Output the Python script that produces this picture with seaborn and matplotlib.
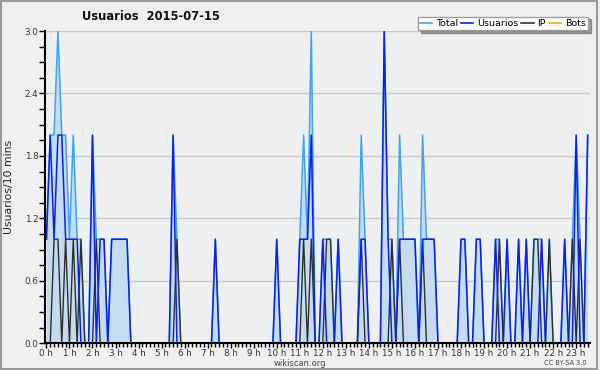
import matplotlib
matplotlib.use("Agg")
import matplotlib.pyplot as plt
import seaborn as sns
import pandas as pd
from matplotlib.lines import Line2D
from matplotlib.patches import Rectangle

# ---- data: one value per 10-minute slot (slot 0 = 00:00) ----
usuarios = [1, 2, 1, 2, 2, 1, 1, 1, 1, 0, 0, 0,
            2, 0, 1, 1, 0, 1, 1, 1, 1, 1, 0, 0,
            0, 0, 0, 0, 0, 0, 0, 0, 0, 2, 0, 0,
            0, 0, 0, 0, 0, 0, 0, 0, 1, 0, 0, 0,
            0, 0, 0, 0, 0, 0, 0, 0, 0, 0, 0, 0,
            1, 0, 0, 0, 0, 0, 1, 1, 1, 2, 0, 0,
            1, 0, 0, 0, 1, 0, 0, 0, 0, 0, 1, 1,
            0, 0, 0, 0, 3, 1, 0, 0, 1, 1, 1, 1,
            1, 0, 1, 1, 1, 1, 0, 0, 0, 0, 0, 0,
            1, 1, 0, 0, 1, 1, 0, 0, 0, 1, 0, 0,
            1, 0, 0, 1, 0, 1, 0, 0, 0, 1, 0, 0,
            0, 0, 0, 1, 0, 0, 2, 0, 0, 2]
ip = [0, 0, 1, 1, 0, 1, 0, 1, 0, 1, 0, 0,
      0, 1, 0, 0, 0, 0, 0, 0, 0, 0, 0, 0,
      0, 0, 0, 0, 0, 0, 0, 0, 0, 0, 1, 0,
      0, 0, 0, 0, 0, 0, 0, 0, 0, 0, 0, 0,
      0, 0, 0, 0, 0, 0, 0, 0, 0, 0, 0, 0,
      0, 0, 0, 0, 0, 0, 0, 1, 0, 1, 0, 0,
      0, 1, 1, 0, 0, 0, 0, 0, 0, 0, 1, 0,
      0, 0, 0, 0, 0, 0, 1, 0, 1, 0, 0, 0,
      0, 0, 1, 0, 0, 0, 0, 0, 0, 0, 0, 0,
      0, 0, 0, 0, 0, 0, 0, 0, 0, 0, 1, 0,
      0, 0, 0, 0, 0, 0, 0, 1, 1, 0, 0, 1,
      0, 0, 0, 0, 0, 1, 0, 1, 0, 0]
total = [1, 2, 2, 3, 2, 2, 1, 2, 1, 1, 0, 0,
         2, 1, 1, 1, 0, 1, 1, 1, 1, 1, 0, 0,
         0, 0, 0, 0, 0, 0, 0, 0, 0, 2, 1, 0,
         0, 0, 0, 0, 0, 0, 0, 0, 1, 0, 0, 0,
         0, 0, 0, 0, 0, 0, 0, 0, 0, 0, 0, 0,
         1, 0, 0, 0, 0, 0, 1, 2, 1, 3, 0, 0,
         1, 1, 1, 0, 1, 0, 0, 0, 0, 0, 2, 1,
         0, 0, 0, 0, 3, 1, 1, 0, 2, 1, 1, 1,
         1, 0, 2, 1, 1, 1, 0, 0, 0, 0, 0, 0,
         1, 1, 0, 0, 1, 1, 0, 0, 0, 1, 1, 0,
         1, 0, 0, 1, 0, 1, 0, 1, 1, 1, 0, 1,
         0, 0, 0, 1, 0, 1, 2, 1, 0, 2]
bots = [0] * len(total)

hour_labels = [f"{h} h" for h in range(24)]
y_ticks = [0.0, 0.6, 1.2, 1.8, 2.4, 3.0]
series_names = ["Total", "Usuarios", "IP", "Bots"]
colors = {"Total": "#3fa2f2", "Usuarios": "#0a1ef5", "IP": "#303030", "Bots": "#ffa500"}
fill_color = "#c5dcf0"

slots = list(range(len(total)))
df = pd.DataFrame({
    "slot": slots * 4,
    "value": total + usuarios + ip + bots,
    "serie": (["Total"] * len(slots) + ["Usuarios"] * len(slots)
              + ["IP"] * len(slots) + ["Bots"] * len(slots)),
})

W, H = 600, 370
fig = plt.figure(figsize=(W / 100, H / 100), dpi=100)
fig.patch.set_facecolor("#f0f0f0")
plt.rcParams["font.family"] = ["DejaVu Sans"]

left, right, bottom, top = 45.3, 590.0, 343.3, 31.0
ax = fig.add_axes([left / W, (H - bottom) / H, (right - left) / W, (bottom - top) / H])
ax.set_facecolor("#eeeff1")

ax.fill_between(slots, total, 0, color=fill_color, lw=0, zorder=1)
sns.lineplot(data=df[df.serie == "Bots"], x="slot", y="value", color=colors["Bots"],
             lw=1, ax=ax, legend=False, zorder=2)
sns.lineplot(data=df[df.serie == "Total"], x="slot", y="value", color=colors["Total"],
             lw=1.1, ax=ax, legend=False, zorder=3)
sns.lineplot(data=df[df.serie == "IP"], x="slot", y="value", color=colors["IP"],
             lw=1.0, ax=ax, legend=False, zorder=4)
sns.lineplot(data=df[df.serie == "Usuarios"], x="slot", y="value", color=colors["Usuarios"],
             lw=1.1, ax=ax, legend=False, zorder=5)

ax.set_xlim(-0.29, 141.6)
ax.set_ylim(0, 3.0)
ax.set_xlabel("")
ax.set_ylabel("")

ax.set_yticks(y_ticks)
ax.set_yticklabels([f"{v:.1f}" for v in y_ticks], fontsize=6.3, color="#333333")
ax.set_yticks([i * 0.15 for i in range(21)], minor=True)
ax.set_xticks([h * 6 for h in range(24)])
ax.set_xticklabels(hour_labels, fontsize=6.3, color="#333333")
ax.set_xticks(slots, minor=True)
ax.tick_params(axis="both", which="both", direction="out", color="black", width=1)
ax.tick_params(axis="y", which="both", length=4, pad=1)
ax.tick_params(axis="x", which="major", length=3.5, pad=0.3)
ax.tick_params(axis="x", which="minor", length=3)

ax.grid(False)
for v in y_ticks[1:]:
    ax.axhline(v, color="#c8c8c8", lw=1, zorder=0.5)

for s in ["top", "right"]:
    ax.spines[s].set_visible(False)
for s in ["left", "bottom"]:
    ax.spines[s].set_color("black")
    ax.spines[s].set_linewidth(1.5)
    ax.spines[s].set_zorder(6)

fig.text(151 / W, 1 - 16 / H, "Usuarios  2015-07-15", ha="center", va="center",
         fontsize=8.3, fontweight="bold", color="#111111")
fig.text(9 / W, 1 - 187 / H, "Usuarios/10 mins", rotation=90, ha="center", va="center",
         fontsize=7.8, color="#222222")
fig.text(300 / W, 1 - 363 / H, "wikiscan.org", ha="center", va="center",
         fontsize=6.0, color="#444444")
fig.text(565 / W, 1 - 363 / H, "CC BY-SA 3.0", ha="center", va="center",
         fontsize=4.8, color="#444444")

handles = [Line2D([], [], color=colors[n], lw=1.2) for n in series_names]
leg = fig.legend(handles, series_names, loc="upper right",
                 bbox_to_anchor=(588 / W, 1 - 16.5 / H), ncol=4, fontsize=6.8,
                 frameon=True, fancybox=False, shadow=True, handlelength=1.3,
                 handletextpad=0.4, columnspacing=0.3, borderpad=0.25,
                 borderaxespad=0)
leg.get_frame().set_facecolor("white")
leg.get_frame().set_edgecolor("#a0a0a0")
leg.get_frame().set_linewidth(1)

fig.patches.append(Rectangle((1 / W, 1 / H), (W - 4) / W, (H - 2) / H,
                             transform=fig.transFigure, fill=False,
                             edgecolor="#9a9a9a", lw=1.5))

fig.savefig("out.png", dpi=100, facecolor=fig.get_facecolor())
